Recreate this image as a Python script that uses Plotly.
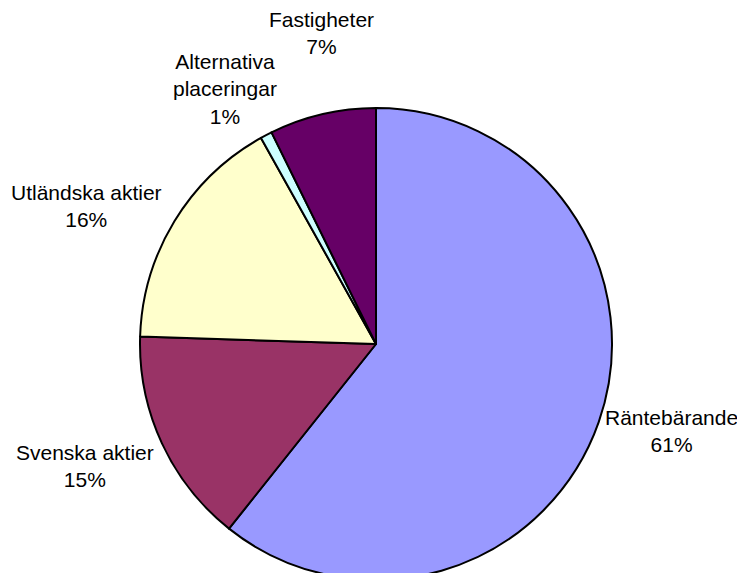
import math
import plotly.graph_objects as go

# ---- data ----
categories = ["Räntebärande", "Svenska aktier", "Utländska aktier", "Alternativa placeringar", "Fastigheter"]
values = [60.7, 14.8, 16.4, 0.8, 7.3]

# ---- style / layout ----
label_text = ["Räntebärande", "Svenska aktier", "Utländska aktier", "Alternativa<br>placeringar", "Fastigheter"]
colors = ["#9999FF", "#993366", "#FFFFCC", "#CCFFFF", "#660066"]
label_nudge_deg = [-2.9, 2.1, -5.8, -2.9, 3.2]   # label angle offset from slice mid-angle
label_dist_px = [308, 316, 321, 296, 316]        # label distance from pie centre

W, H = 745, 590
PAGE_OFF = 8  # default body margin of the html page
dom = 472  # pie diameter in px
ml = 140 - PAGE_OFF
mt = 108 - PAGE_OFF
mr = W - ml - dom
mb = H - mt - dom

fig = go.Figure(go.Pie(
    labels=categories,
    values=values,
    sort=False,
    direction="clockwise",
    rotation=0,
    marker=dict(colors=colors, line=dict(color="#000000", width=2)),
    textinfo="none",
    hoverinfo="label+percent",
    showlegend=False,
))

total = sum(values)
cum = 0.0
annotations = []
for name, v, nd, D in zip(label_text, values, label_nudge_deg, label_dist_px):
    mid = (cum + v / 2) / total * 360.0 + nd
    cum += v
    a = math.radians(mid)
    x = 0.5 + D * math.sin(a) / dom
    y = 0.5 + D * math.cos(a) / dom
    pct = round(v / total * 100)
    annotations.append(dict(
        x=x, y=y, xref="paper", yref="paper",
        text=f"{name}<br>{pct}%", showarrow=False,
        xanchor="center", yanchor="middle", align="center",
        font=dict(family="Liberation Sans, Arial, sans-serif", size=21, color="#000000"),
    ))

fig.update_layout(
    width=W, height=H,
    margin=dict(l=ml, r=mr, t=mt, b=mb),
    paper_bgcolor="white", plot_bgcolor="white",
    annotations=annotations,
)

fig.write_html("out.html")
